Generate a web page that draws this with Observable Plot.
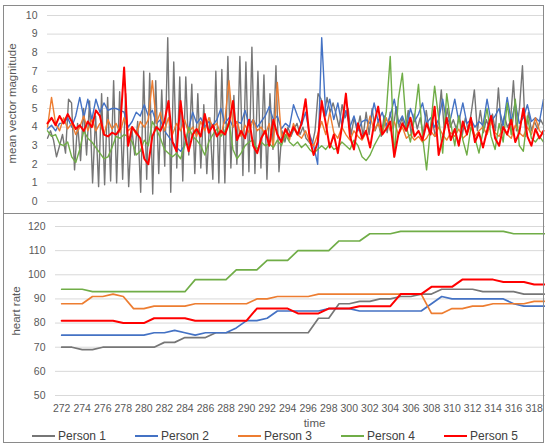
<!DOCTYPE html>
<html>
<head>
<meta charset="utf-8">
<script src="https://cdn.jsdelivr.net/npm/d3@7"></script>
<script src="https://cdn.jsdelivr.net/npm/@observablehq/plot@0.6"></script>
<style>
body{margin:0;background:#fff;font-family:"Liberation Sans",Arial,sans-serif;}
#wrap{position:relative;width:550px;height:447px;overflow:hidden;}
#top{position:absolute;left:0;top:0;}
#bottom{position:absolute;left:0;top:214px;}
#legend{position:absolute;left:32px;top:428px;display:flex;font-size:12px;color:#404040;}
.item{width:103px;display:flex;align-items:center;height:16px;white-space:nowrap;}
.sw{width:23px;height:0;border-top:2px solid;margin-right:3px;}
#frame{position:absolute;left:3px;top:5px;width:539px;height:436px;border:1px solid #8a8a8a;pointer-events:none;}
#divider{position:absolute;left:3px;top:213px;width:540px;height:0;border-top:1px solid #8a8a8a;pointer-events:none;}
</style>
</head>
<body>
<div id="wrap">
  <div id="top"></div>
  <div id="bottom"></div>
  <div id="legend"></div>
  <div id="frame"></div>
  <div id="divider"></div>
</div>
<script>
// ---------- data ----------
const persons = ["Person 1", "Person 2", "Person 3", "Person 4", "Person 5"];
const colors = ["#767676", "#4472c4", "#ed7d31", "#70ad47", "#ff0000"];

const magnitudeTicks = [0, 1, 2, 3, 4, 5, 6, 7, 8, 9, 10];
const heartTicks = [50, 60, 70, 80, 90, 100, 110, 120];
const timeTicks = [272, 274, 276, 278, 280, 282, 284, 286, 288, 290, 292, 294, 296, 298, 300, 302, 304, 306, 308, 310, 312, 314, 316, 318];

// mean vector magnitude (top panel), samples across the window
const mvm1 = [3.4,3.8,3.3,2.4,3.0,3.6,2.6,5.5,5.3,1.7,
 4.2,2.2,5.0,2.5,5.4,1.0,4.6,0.8,5.8,0.9,
 5.6,1.1,6.5,1.0,5.9,1.2,5.8,0.8,4.0,2.5,
 4.3,0.5,7.0,1.2,6.9,0.4,6.5,1.5,6.0,1.9,
 8.8,0.5,7.5,1.8,6.7,1.1,6.7,2.5,6.3,1.5,
 5.8,1.8,5.2,1.5,4.5,1.2,7.0,1.0,7.1,1.0,
 7.8,1.8,5.7,2.0,7.8,1.4,7.5,1.6,8.3,1.5,
 7.0,1.8,6.8,1.2,5.8,2.8,7.3,1.6,3.8,3.2,
 4.0,3.5,3.9,4.2,3.6,4.0,3.4,3.2,3.0,3.8,
 5.8,5.5,4.6,5.6,4.8,5.3,4.7,4.0,5.2,4.5,
 5.0,3.6,4.5,3.8,4.6,3.5,4.8,3.6,5.0,3.8,
 4.3,3.5,4.6,3.7,4.8,3.9,5.1,4.0,4.5,3.8,
 4.9,3.6,4.7,3.9,4.5,3.6,4.9,3.7,4.4,3.5,
 4.2,6.0,3.8,5.0,4.0,4.4,3.9,4.6,3.6,4.5,
 3.8,4.8,6.0,3.8,4.9,3.7,4.4,3.9,4.7,3.8,
 6.1,3.9,4.6,4.0,4.3,6.5,3.8,5.0,7.3,3.5,
 4.8,3.8,4.3,3.9,4.4,4.1];
const mvm2 = [3.9,4.1,3.8,4.2,4.2,4.5,4.0,4.6,5.6,4.5,
 5.5,4.4,5.5,4.8,5.3,4.9,5.0,5.0,4.9,4.8,
 4.0,4.3,4.8,4.6,5.2,4.6,4.9,4.2,4.4,3.8,
 3.5,3.2,2.9,2.7,3.0,3.9,4.8,4.2,4.5,4.0,
 4.3,4.1,4.4,5.0,4.2,4.5,4.0,4.3,4.2,4.9,
 4.1,4.4,4.0,4.3,4.6,5.1,4.4,4.6,3.9,4.2,
 4.0,5.2,4.6,4.1,4.8,3.6,3.0,2.0,8.8,4.6,
 5.5,4.4,5.3,4.1,4.9,4.0,4.6,3.8,4.3,4.4,
 4.2,5.3,4.3,4.8,4.1,4.6,5.5,4.2,4.6,4.0,
 5.0,4.3,4.7,5.3,4.2,4.5,4.0,4.4,5.5,4.2,
 4.5,5.5,4.3,5.3,4.2,4.4,4.0,4.3,4.1,5.5,
 4.3,4.6,5.0,4.1,5.6,4.3,5.3,4.2,4.5,5.2,
 4.3,4.5,4.3,5.5];
const mvm3 = [4.0,5.6,4.2,3.8,4.5,3.9,4.2,3.6,4.0,4.6,
 3.8,4.4,3.8,4.2,3.6,4.4,3.9,4.2,3.7,4.5,
 3.8,4.0,3.6,4.3,4.0,4.4,6.5,4.2,4.8,3.8,
 4.5,3.6,4.2,3.8,4.4,3.7,4.0,3.5,4.3,3.8,
 4.5,4.0,4.2,3.6,4.4,6.5,4.0,4.3,3.5,4.1,
 3.7,4.4,3.8,4.0,3.6,4.2,2.9,6.4,3.5,3.8,
 3.3,4.2,3.6,3.4,3.8,3.2,3.0,3.6,4.3,3.6,
 4.8,3.7,3.4,4.0,3.6,3.3,3.8,3.5,3.3,3.7,
 4.6,3.8,4.2,3.6,4.5,3.8,4.3,3.6,4.0,3.4,
 3.6,3.3,3.5,3.2,3.4,3.8,3.5,4.0,3.6,3.3,
 3.7,3.5,3.9,3.4,3.6,4.2,3.5,3.8,4.0,3.6,
 4.3,3.7,3.5,4.0,3.6,3.4,4.1,3.7,3.5,4.0,
 3.6,4.5,3.8,3.6];
const mvm4 = [3.8,3.5,3.6,3.1,3.0,3.2,2.4,2.1,2.8,3.8,
 3.4,3.2,2.9,2.6,2.3,2.4,2.9,3.5,3.4,3.6,
 3.5,3.2,2.5,2.7,3.3,3.0,4.3,3.9,3.4,2.8,
 2.6,2.4,2.6,2.3,3.0,4.0,3.5,3.3,3.0,2.5,
 3.2,3.6,3.9,3.5,3.8,4.3,2.8,2.3,2.6,3.0,
 3.2,3.3,2.8,3.2,3.0,3.1,2.9,3.3,3.0,3.6,
 3.2,3.0,3.2,2.9,3.1,2.8,2.6,2.8,3.0,2.8,
 3.1,2.8,2.9,3.2,3.0,2.8,3.3,3.0,2.4,2.2,
 2.5,3.0,3.4,3.8,4.8,7.8,2.4,5.5,6.9,4.0,
 3.2,4.5,6.3,3.5,1.7,4.0,6.2,4.5,2.6,5.8,
 4.2,3.0,4.6,3.3,2.5,4.0,3.4,2.6,3.8,5.0,
 3.5,2.8,4.2,3.2,5.3,3.6,5.5,3.0,2.7,4.6,
 3.4,3.2,3.5,3.2];
const mvm5 = [4.2,4.5,4.1,4.6,4.2,4.7,4.3,3.9,4.1,3.8,
 4.3,4.0,4.9,4.6,3.6,3.5,3.7,3.6,3.9,7.2,
 3.0,4.0,3.7,3.4,2.3,2.0,3.5,4.0,3.8,4.3,
 5.4,3.2,2.7,5.4,3.6,2.7,3.6,3.9,3.5,4.7,
 3.7,4.1,3.5,3.8,3.6,4.2,5.4,3.3,3.8,3.4,
 4.4,3.0,2.6,3.4,3.8,3.0,4.4,3.6,3.2,3.9,
 3.5,4.0,3.6,4.2,5.5,3.4,2.5,3.2,5.4,4.2,
 2.9,3.6,2.6,4.0,5.8,3.5,2.8,4.2,3.4,3.8,
 2.9,4.2,5.1,3.6,3.9,4.3,2.4,3.6,4.2,3.8,
 4.5,3.5,3.8,3.3,4.2,3.6,5.1,2.5,3.4,4.5,
 3.3,3.9,3.0,4.3,3.6,4.5,3.2,3.7,2.9,3.8,
 4.6,3.4,3.0,4.0,3.6,4.4,3.2,3.7,5.0,3.5,
 3.0,3.9,3.4,3.8];

// heart rate (bottom panel), one value per time step
const time = [272,273,274,275,276,277,278,279,280,281,282,283,284,285,286,287,288,289,290,291,292,293,294,295,296,297,298,299,300,301,302,303,304,305,306,307,308,309,310,311,312,313,314,315,316,317,318,319];
const hr1 = [70,70,69,69,70,70,70,70,70,70,72,72,74,74,74,76,76,76,76,76,76,76,76,76,76,82,82,88,88,89,89,90,90,91,91,92,92,94,94,94,94,93,93,93,93,92,92,92];
const hr2 = [75,75,75,75,75,75,75,75,75,76,76,77,76,75,76,76,76,78,81,81,82,85,85,85,85,85,86,86,86,85,85,85,85,85,85,85,88,91,90,90,90,90,90,90,88,87,87,87];
const hr3 = [88,88,88,91,91,92,91,86,86,87,87,87,87,88,88,88,88,88,88,90,90,91,91,91,91,92,92,92,92,92,92,92,92,92,92,92,84,84,86,86,87,87,88,88,88,88,89,89];
const hr4 = [94,94,94,93,93,93,93,93,93,93,93,93,93,98,98,98,98,102,102,102,106,106,106,110,110,110,110,114,114,114,117,117,117,118,118,118,118,118,118,118,118,118,118,118,117,117,117,117];
const hr5 = [81,81,81,81,81,81,80,80,80,82,82,82,82,81,81,81,81,81,81,86,86,86,86,84,84,84,86,86,86,87,87,87,87,92,92,92,95,95,95,98,98,98,98,97,97,97,96,96];

// ---------- build ----------
const font = '"Liberation Sans", Arial, sans-serif';
const mvmSeries = [mvm1, mvm2, mvm3, mvm4, mvm5];
const hrSeries = [hr1, hr2, hr3, hr4, hr5];

const topRows = mvmSeries.map((vals, k) =>
  vals.map((v, i) => ({person: persons[k], x: i / (vals.length - 1), y: v})));
const bottomRows = hrSeries.map((vals, k) =>
  vals.map((v, i) => ({person: persons[k], t: time[i], hr: v})));

const topPlot = Plot.plot({
  width: 545, height: 213,
  marginLeft: 47, marginRight: 2, marginTop: 15, marginBottom: 12,
  style: {fontFamily: font, fontSize: "10.5px", color: "#595959", background: "transparent"},
  x: {domain: [0, 1], axis: null},
  y: {domain: [0, 10]},
  marks: [
    Plot.gridY(magnitudeTicks, {stroke: "#d9d9d9", strokeOpacity: 1}),
    Plot.axisY(magnitudeTicks, {tickSize: 0, tickPadding: 10, label: null}),
    ...topRows.map((rows, k) => Plot.lineY(rows, {x: "x", y: "y", stroke: colors[k], strokeWidth: k === 4 ? 2 : 1.4, strokeLinejoin: "round"})),
    Plot.text(["mean vector magnitude"], {text: d => d, frameAnchor: "left", textAnchor: "middle", lineAnchor: "middle", dx: -35, dy: -5, rotate: -90, fontSize: 11.5, fill: "#595959"})
  ]
});
document.getElementById("top").append(topPlot);

const bottomPlot = Plot.plot({
  width: 545, height: 215,
  marginLeft: 55, marginRight: 0, marginTop: 12, marginBottom: 34,
  style: {fontFamily: font, fontSize: "10.5px", color: "#595959", background: "transparent"},
  x: {domain: [271.4, 319.1]},
  y: {domain: [50, 120]},
  marks: [
    Plot.gridY(heartTicks, {stroke: "#d9d9d9", strokeOpacity: 1}),
    Plot.axisY(heartTicks, {tickSize: 0, tickPadding: 10, label: null}),
    Plot.axisX(timeTicks, {tickSize: 0, tickPadding: 9, label: null}),
    ...bottomRows.map((rows, k) => Plot.lineY(rows, {x: "t", y: "hr", stroke: colors[k], strokeWidth: k === 4 ? 2 : 1.7})),
    Plot.text(["time"], {text: d => d, frameAnchor: "bottom", textAnchor: "middle", lineAnchor: "middle", dx: 14, dy: 28, fontSize: 11.5, fill: "#595959"}),
    Plot.text(["heart rate"], {text: d => d, frameAnchor: "left", textAnchor: "middle", lineAnchor: "middle", dx: -39, rotate: -90, fontSize: 11.5, fill: "#595959"})
  ]
});
document.getElementById("bottom").append(bottomPlot);

const legend = document.getElementById("legend");
persons.forEach((p, k) => {
  const item = document.createElement("div");
  item.className = "item";
  const sw = document.createElement("span");
  sw.className = "sw";
  sw.style.borderTopColor = colors[k];
  const label = document.createElement("span");
  label.textContent = p;
  item.append(sw, label);
  legend.append(item);
});
</script>
</body>
</html>
